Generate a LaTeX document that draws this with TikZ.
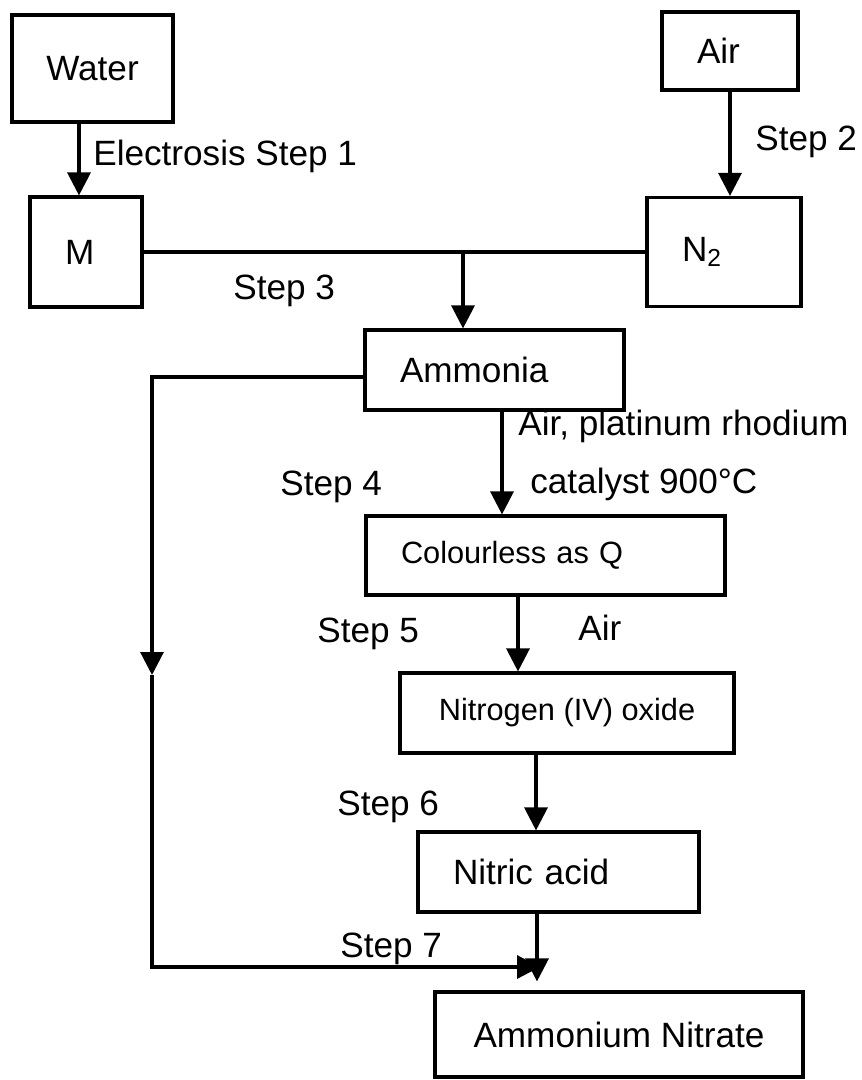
\documentclass[tikz,border=0pt]{standalone}
\usepackage{fontspec}
\setmainfont{Liberation Sans}
\usetikzlibrary{arrows.meta}
\tikzset{
	every picture/.style={font=\fontsize{20}{24}\selectfont,},
	small/.style={font=\fontsize{17.5}{21}\selectfont,},
	lw/.style={line width=1.8pt,},
	%%%
	box/.style={draw, lw, rectangle, inner sep=0pt},
	lbox/.style={box, align=left, inner xsep=0.7cm},
	flow/.style={lw, -{Triangle[width=0.46cm, length=0.46cm]}},
	stepnote/.style={anchor=base west, inner sep=0},
}

\begin{document}
\begin{tikzpicture}[x=0.02cm, y=-0.02cm]

	\useasboundingbox (0,0) rectangle (862,1080);

	%%% Raw materials

	\node[box, minimum width=3.22cm, minimum height=2.14cm] (water) at (92.5,68.5) {Water};
	\node[lbox, text width=1.32cm, minimum height=1.56cm] (air) at (730,51) {Air};
	\node[lbox, text width=0.84cm, minimum height=2.2cm] (mgas) at (86,252) {M};
	\node[lbox, text width=1.68cm, minimum height=2.18cm] (nitrogen) at (724,252) {N\textsubscript{2}};

	%%% Process chain

	\node[lbox, text width=3.78cm, minimum height=1.6cm] (ammonia) at (494.5,370) {Ammonia};
	\node[lbox, small, text width=5.78cm, minimum height=1.58cm] (gasQ) at (545.5,555.5) {Colourless as Q};
	\node[box, small, minimum width=6.68cm, minimum height=1.6cm] (dioxide) at (567,713) {Nitrogen (IV) oxide};
	\node[lbox, text width=4.22cm, minimum height=1.6cm] (nitric) at (558.5,872) {Nitric acid};
	\node[box, minimum width=7.36cm, minimum height=1.7cm] (nitrate) at (619,1034.5) {Ammonium Nitrate};

	%%% Connectors

	\coordinate (w1) at ([xshift=-0.14cm]mgas.north);
	\draw[flow] (w1 |- water.south) -- (w1);
	\draw[flow] (air.south) -- (air.south |- nitrogen.north);

	\draw[lw] (mgas.east) -- (nitrogen.west);
	\coordinate (split) at (463,252);
	\draw[flow] (split) -- (split |- ammonia.north);

	\coordinate (a1) at ([xshift=0.15cm]ammonia.south);
	\draw[flow] (a1) -- (a1 |- gasQ.north);
	\coordinate (q1) at ([xshift=-0.55cm]gasQ.south);
	\draw[flow] (q1) -- (q1 |- dioxide.north);
	\coordinate (d1) at ([xshift=-0.62cm]dioxide.south);
	\draw[flow] (d1) -- (d1 |- nitric.north);
	\coordinate (n1) at ([xshift=-0.43cm]nitric.south);
	\draw[flow, shorten >=0.18cm] (n1) -- (n1 |- nitrate.north);

	% bypass of ammonia to step 7
	\coordinate (a0) at ([yshift=-0.14cm]ammonia.west);
	\coordinate (drop) at (152,675);
	\coordinate (join) at (540,967);
	\draw[flow] (a0) -| (drop);
	\draw[flow] (drop) |- (join);

	%%% Labels

	\node[stepnote] (lab1) at (93,165) {Electrosis Step 1};
	\node[stepnote] (lab2) at (755,150) {Step 2};
	\node[stepnote] (lab3) at (233,299) {Step 3};
	\node[stepnote] (lab4) at (280,495) {Step 4};
	\node[stepnote] (cond4a) at (518,435) {Air, platinum rhodium};
	\node[stepnote] (cond4b) at (530,493) {catalyst 900°C};
	\node[stepnote] (lab5) at (317,642) {Step 5};
	\node[stepnote] (cond5) at (578,640) {Air};
	\node[stepnote] (lab6) at (337,815) {Step 6};
	\node[stepnote] (lab7) at (340,957) {Step 7};

\end{tikzpicture}
\end{document}
